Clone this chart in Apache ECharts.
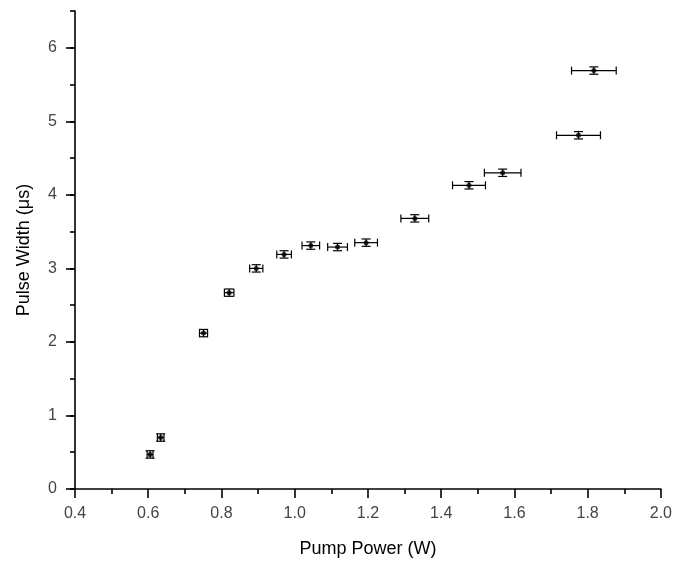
<!DOCTYPE html>
<html>
<head>
<meta charset="utf-8">
<script src="https://cdn.jsdelivr.net/npm/echarts@6/dist/echarts.min.js"></script>
<style>html,body{margin:0;padding:0;background:#fff}#c{width:675px;height:567px}</style>
</head>
<body>
<div id="c"></div>
<script>
const pumpPower = [0.605, 0.634, 0.751, 0.821, 0.895, 0.971, 1.044, 1.117, 1.195, 1.328, 1.476, 1.568, 1.775, 1.817];
const pulseWidth = [0.47, 0.70, 2.12, 2.67, 3.00, 3.19, 3.31, 3.29, 3.35, 3.68, 4.13, 4.30, 4.81, 5.69];
const powerErr = [0.008, 0.009, 0.011, 0.013, 0.018, 0.020, 0.024, 0.027, 0.031, 0.038, 0.045, 0.050, 0.060, 0.061];
const widthErr = [0.05, 0.05, 0.05, 0.05, 0.05, 0.05, 0.05, 0.05, 0.05, 0.05, 0.05, 0.05, 0.05, 0.05];
const xTicks = [0.4, 0.6, 0.8, 1.0, 1.2, 1.4, 1.6, 1.8, 2.0];
const yTicks = [0, 1, 2, 3, 4, 5, 6];

const pts = pumpPower.map((x, i) => [x, pulseWidth[i], powerErr[i], widthErr[i]]);
const font = 'Liberation Sans, Arial, sans-serif';

const chart = echarts.init(document.getElementById('c'), null, {renderer: 'canvas'});
chart.setOption({
  animation: false,
  backgroundColor: '#fff',
  grid: {left: 75, right: 14, top: 11, bottom: 78, containLabel: false},
  xAxis: {
    type: 'value', min: 0.4, max: 2.0, interval: 0.2,
    name: 'Pump Power (W)', nameLocation: 'middle', nameGap: 51,
    nameTextStyle: {fontFamily: font, fontSize: 18, color: '#000'},
    axisLine: {show: true, lineStyle: {color: '#000', width: 1.6}},
    axisTick: {show: true, length: 9, lineStyle: {color: '#000', width: 1.6}},
    minorTick: {show: true, splitNumber: 2, length: 5, lineStyle: {color: '#000', width: 1.6}},
    axisLabel: {margin: 17, fontFamily: font, fontSize: 16, color: '#444',
      formatter: v => xTicks.some(t => Math.abs(t - v) < 1e-9) ? v.toFixed(1) : ''},
    splitLine: {show: false}, minorSplitLine: {show: false}
  },
  yAxis: [{
    type: 'value', min: 0, max: 6.5, position: 'left',
    name: 'Pulse Width (\u03bcs)', nameLocation: 'middle', nameGap: 42,
    nameTextStyle: {fontFamily: font, fontSize: 18, color: '#000'},
    axisLine: {show: true, lineStyle: {color: '#000', width: 1.6}},
    axisTick: {show: true, length: 9, customValues: yTicks, lineStyle: {color: '#000', width: 1.6}},
    axisLabel: {margin: 18, fontFamily: font, fontSize: 16, color: '#444', customValues: yTicks,
      formatter: v => String(v)},
    splitLine: {show: false}
  }, {
    type: 'value', min: 0, max: 6.5, interval: 0.5, position: 'left',
    axisLine: {show: false},
    axisTick: {show: true, length: 5, lineStyle: {color: '#000', width: 1.6}},
    axisLabel: {show: false},
    splitLine: {show: false}
  }],
  series: [{
    type: 'custom',
    yAxisIndex: 0,
    data: pts,
    renderItem: function (params, api) {
      const x = api.value(0), y = api.value(1), xe = api.value(2), ye = api.value(3);
      const c = api.coord([x, y]);
      const l = api.coord([x - xe, y]);
      const r = api.coord([x + xe, y]);
      const t = api.coord([x, y + ye]);
      const b = api.coord([x, y - ye]);
      const cap = 4;
      const st = {stroke: '#000', lineWidth: 1.2};
      const lines = [
        [l[0], c[1], r[0], c[1]],
        [l[0], c[1] - cap, l[0], c[1] + cap],
        [r[0], c[1] - cap, r[0], c[1] + cap],
        [c[0], t[1], c[0], b[1]],
        [c[0] - 4.5, t[1], c[0] + 4.5, t[1]],
        [c[0] - 4.5, b[1], c[0] + 4.5, b[1]]
      ];
      return {
        type: 'group',
        children: lines.map(p => ({type: 'line', shape: {x1: p[0], y1: p[1], x2: p[2], y2: p[3]}, style: st}))
      };
    },
    z: 2
  }, {
    type: 'scatter',
    yAxisIndex: 0,
    data: pts.map(p => [p[0], p[1]]),
    symbol: 'circle', symbolSize: 5,
    itemStyle: {color: '#000'},
    z: 3
  }]
});
</script>
</body>
</html>
